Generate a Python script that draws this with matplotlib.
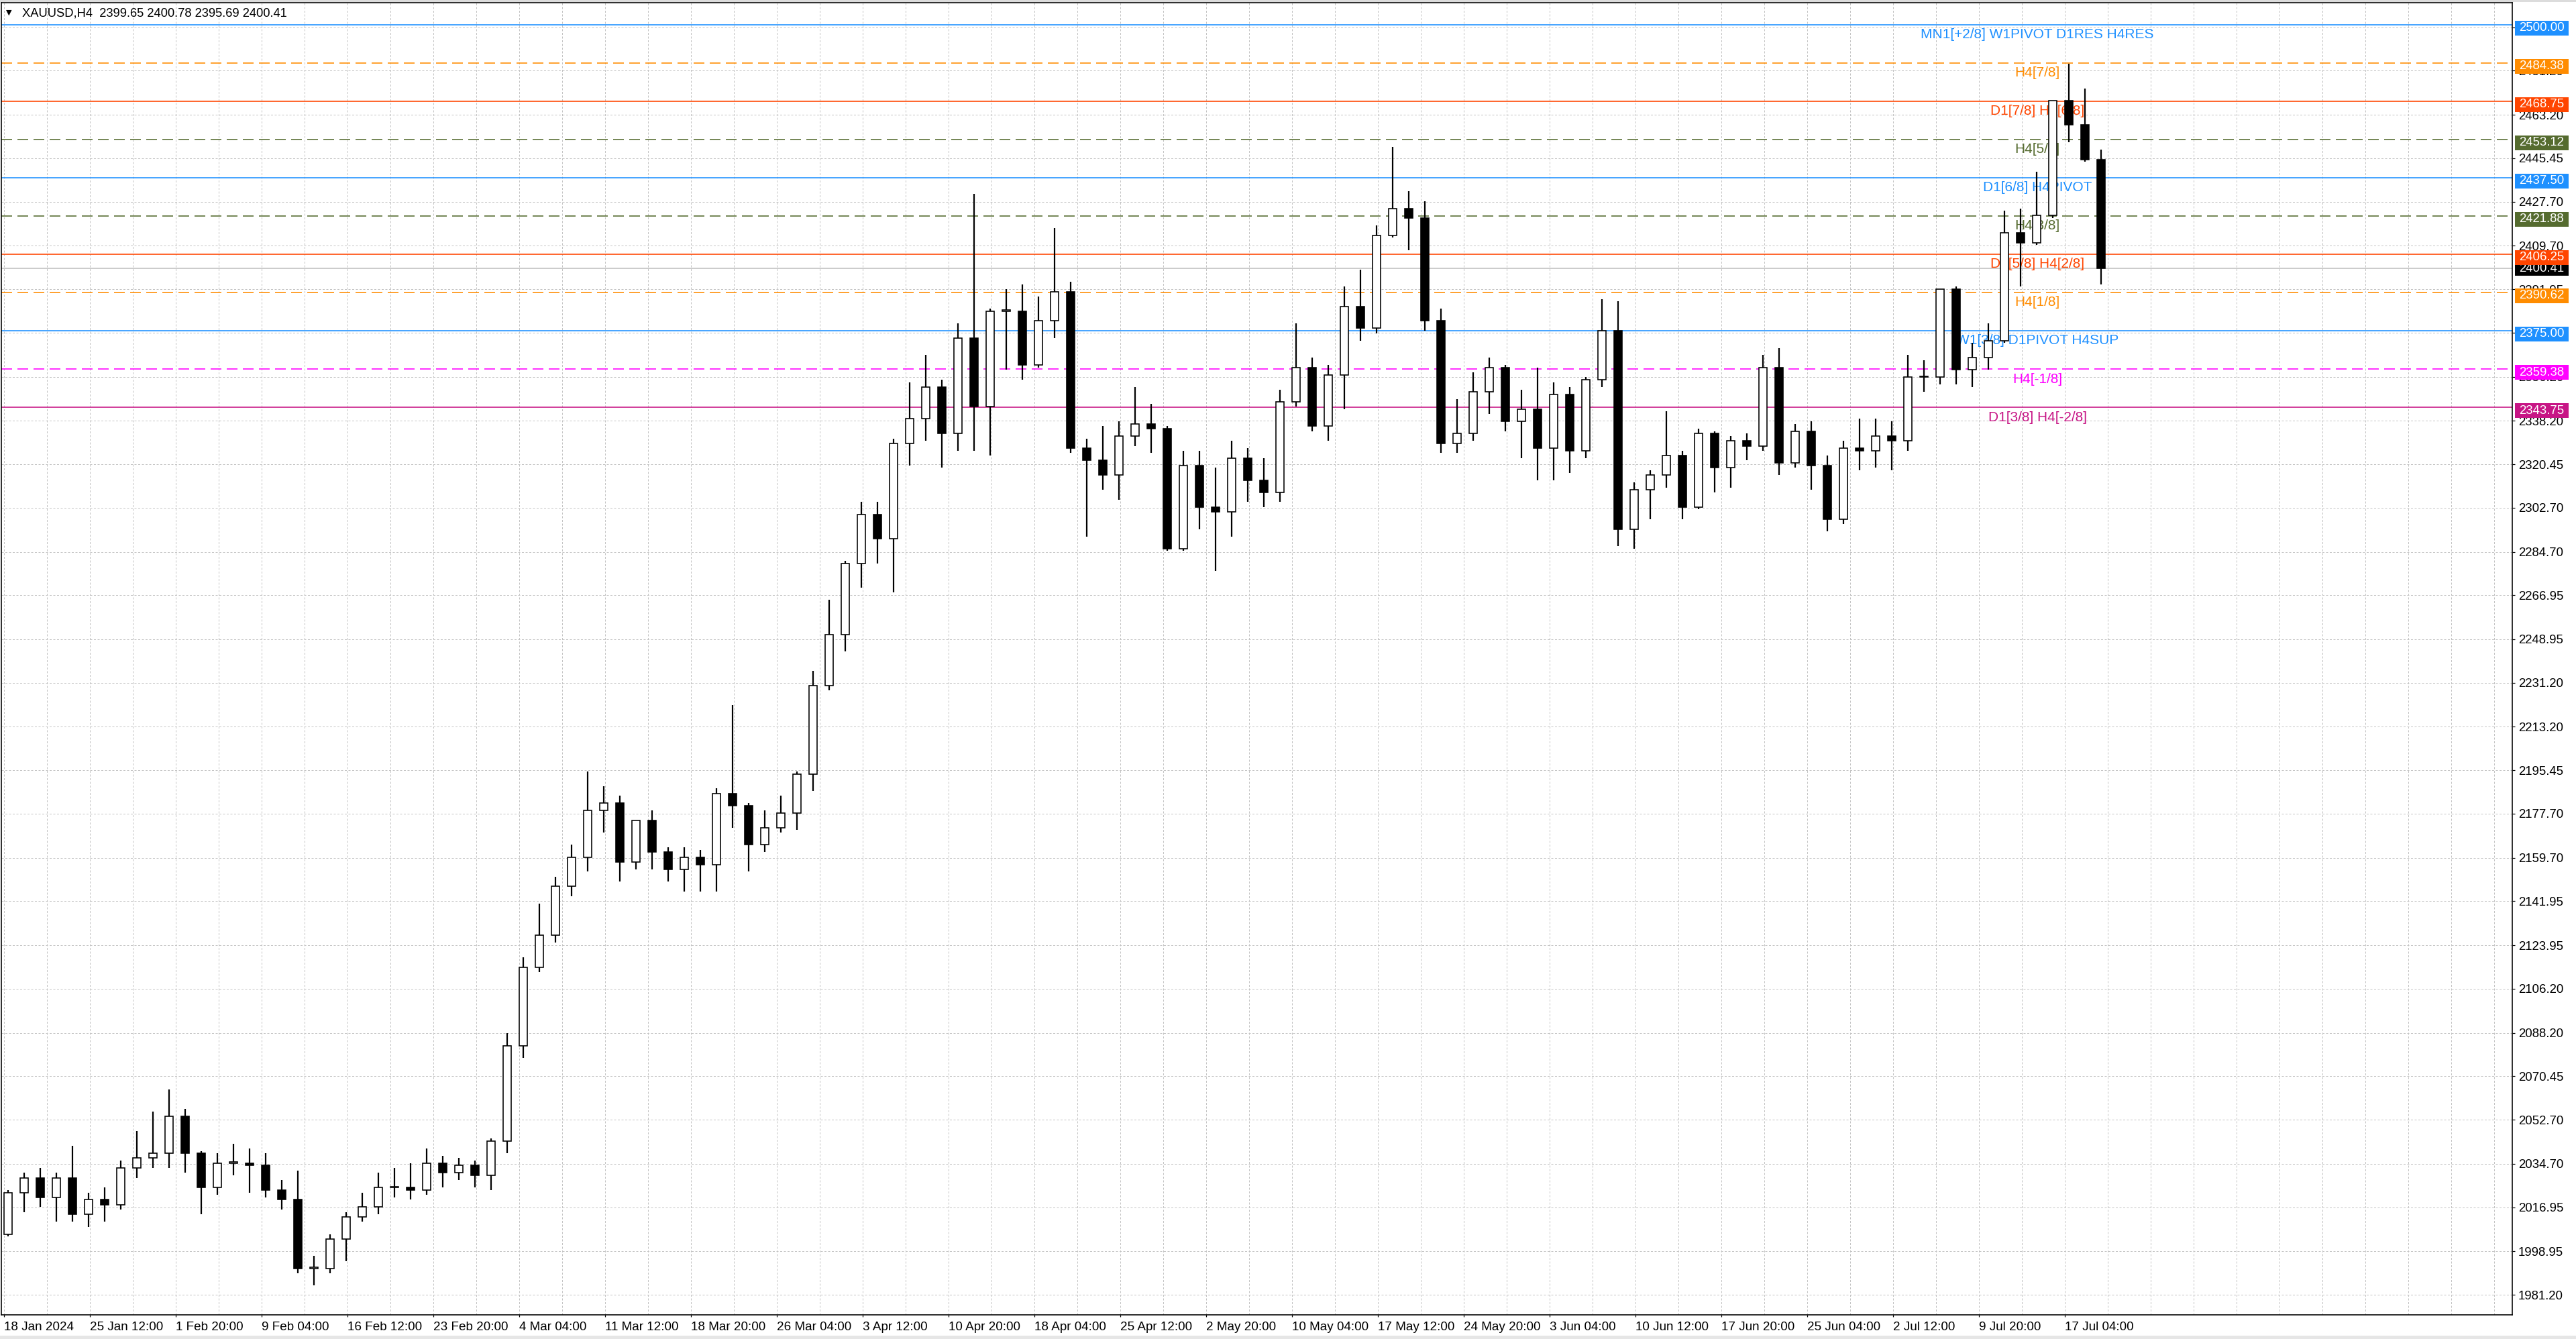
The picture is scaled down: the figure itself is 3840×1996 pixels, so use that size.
import matplotlib
matplotlib.use("Agg")
import matplotlib.pyplot as plt
from matplotlib.patches import Rectangle
from matplotlib.transforms import blended_transform_factory
import numpy as np

plt.rcParams['lines.scale_dashes'] = False
plt.rcParams['font.family'] = ['Liberation Sans', 'DejaVu Sans']

# ---------------- data ----------------
symbol = "XAUUSD,H4"
last_bar = [2399.65, 2400.78, 2395.69, 2400.41]   # O H L C of the current bar

days = ["18 Jan", "19 Jan", "22 Jan", "23 Jan", "24 Jan", "25 Jan", "26 Jan", "29 Jan", "30 Jan", "31 Jan",
        "1 Feb", "2 Feb", "5 Feb", "6 Feb", "7 Feb", "8 Feb", "9 Feb", "12 Feb", "13 Feb", "14 Feb",
        "15 Feb", "16 Feb", "19 Feb", "20 Feb", "21 Feb", "22 Feb", "23 Feb", "26 Feb", "27 Feb", "28 Feb",
        "29 Feb", "1 Mar", "4 Mar", "5 Mar", "6 Mar", "7 Mar", "8 Mar", "11 Mar", "12 Mar", "13 Mar",
        "14 Mar", "15 Mar", "18 Mar", "19 Mar", "20 Mar", "21 Mar", "22 Mar", "25 Mar", "26 Mar", "27 Mar",
        "28 Mar", "1 Apr", "2 Apr", "3 Apr", "4 Apr", "5 Apr", "8 Apr", "9 Apr", "10 Apr", "11 Apr",
        "12 Apr", "15 Apr", "16 Apr", "17 Apr", "18 Apr", "19 Apr", "22 Apr", "23 Apr", "24 Apr", "25 Apr",
        "26 Apr", "29 Apr", "30 Apr", "1 May", "2 May", "3 May", "6 May", "7 May", "8 May", "9 May",
        "10 May", "13 May", "14 May", "15 May", "16 May", "17 May", "20 May", "21 May", "22 May", "23 May",
        "24 May", "27 May", "28 May", "29 May", "30 May", "31 May", "3 Jun", "4 Jun", "5 Jun", "6 Jun",
        "7 Jun", "10 Jun", "11 Jun", "12 Jun", "13 Jun", "14 Jun", "17 Jun", "18 Jun", "19 Jun", "20 Jun",
        "21 Jun", "24 Jun", "25 Jun", "26 Jun", "27 Jun", "28 Jun", "1 Jul", "2 Jul", "3 Jul", "4 Jul",
        "5 Jul", "8 Jul", "9 Jul", "10 Jul", "11 Jul", "12 Jul", "15 Jul", "16 Jul", "17 Jul", "18 Jul",
        "19 Jul"]

opens = [2006, 2023, 2029, 2021, 2029, 2014, 2020, 2018, 2033, 2037,
         2039, 2054, 2039, 2025, 2035, 2035, 2034, 2024, 2020, 1992,
         1992, 2004, 2013, 2017, 2025, 2025, 2024, 2035, 2031, 2034,
         2030, 2044, 2083, 2115, 2128, 2148, 2160, 2179, 2182, 2158,
         2175, 2162, 2155, 2160, 2157, 2186, 2181, 2165, 2172, 2178,
         2194, 2230, 2251, 2280, 2300, 2290, 2329, 2339, 2352, 2333,
         2372, 2344, 2383, 2383, 2361, 2379, 2391, 2327, 2322, 2316,
         2332, 2337, 2335, 2286, 2320, 2303, 2301, 2323, 2314, 2309,
         2346, 2360, 2336, 2357, 2385, 2376, 2414, 2425, 2421, 2379,
         2329, 2333, 2350, 2360, 2338, 2343, 2327, 2349, 2326, 2355,
         2375, 2294, 2310, 2316, 2324, 2303, 2333, 2319, 2330, 2328,
         2360, 2321, 2334, 2320, 2298, 2327, 2326, 2332, 2330, 2356,
         2356, 2392, 2359, 2364, 2371, 2415, 2411, 2422, 2469, 2459,
         2445]

highs = [2024, 2031, 2033, 2031, 2042, 2023, 2025, 2036, 2048, 2056,
         2065, 2057, 2040, 2039, 2043, 2041, 2039, 2028, 2032, 1997,
         2006, 2015, 2023, 2031, 2033, 2035, 2041, 2038, 2037, 2036,
         2045, 2088, 2119, 2141, 2152, 2165, 2195, 2189, 2185, 2175,
         2179, 2164, 2164, 2163, 2188, 2222, 2182, 2179, 2185, 2195,
         2236, 2265, 2281, 2305, 2305, 2331, 2354, 2365, 2355, 2378,
         2431, 2384, 2392, 2394, 2389, 2417, 2395, 2331, 2336, 2338,
         2352, 2345, 2336, 2326, 2326, 2319, 2330, 2327, 2323, 2351,
         2378, 2364, 2361, 2393, 2400, 2418, 2450, 2432, 2428, 2384,
         2347, 2358, 2364, 2361, 2351, 2360, 2354, 2352, 2356, 2388,
         2387, 2313, 2318, 2342, 2326, 2335, 2334, 2332, 2333, 2365,
         2368, 2337, 2338, 2324, 2330, 2339, 2339, 2338, 2365, 2363,
         2392, 2393, 2370, 2378, 2424, 2425, 2440, 2469, 2484, 2474,
         2449]

lows = [2005, 2015, 2017, 2011, 2011, 2009, 2011, 2016, 2029, 2033,
        2033, 2031, 2014, 2022, 2030, 2023, 2021, 2016, 1990, 1985,
        1990, 1995, 2011, 2014, 2021, 2020, 2022, 2025, 2028, 2025,
        2024, 2039, 2078, 2113, 2125, 2144, 2154, 2170, 2150, 2155,
        2155, 2150, 2146, 2146, 2146, 2172, 2154, 2162, 2170, 2171,
        2187, 2228, 2244, 2270, 2280, 2268, 2320, 2330, 2319, 2326,
        2326, 2324, 2359, 2355, 2360, 2372, 2325, 2291, 2310, 2306,
        2328, 2325, 2285, 2285, 2294, 2277, 2291, 2305, 2303, 2305,
        2344, 2334, 2330, 2343, 2371, 2374, 2413, 2408, 2375, 2325,
        2325, 2330, 2341, 2334, 2323, 2314, 2314, 2317, 2323, 2352,
        2287, 2286, 2298, 2311, 2298, 2302, 2309, 2311, 2322, 2326,
        2316, 2319, 2310, 2293, 2296, 2318, 2319, 2318, 2326, 2350,
        2353, 2353, 2352, 2359, 2370, 2393, 2410, 2421, 2452, 2444,
        2394]

closes = [2023, 2029, 2021, 2029, 2014, 2020, 2018, 2033, 2037, 2039,
          2054, 2039, 2025, 2035, 2035, 2034, 2024, 2020, 1992, 1992,
          2004, 2013, 2017, 2025, 2025, 2024, 2035, 2031, 2034, 2030,
          2044, 2083, 2115, 2128, 2148, 2160, 2179, 2182, 2158, 2175,
          2162, 2155, 2160, 2157, 2186, 2181, 2165, 2172, 2178, 2194,
          2230, 2251, 2280, 2300, 2290, 2329, 2339, 2352, 2333, 2372,
          2344, 2383, 2383, 2361, 2379, 2391, 2327, 2322, 2316, 2332,
          2337, 2335, 2286, 2320, 2303, 2301, 2323, 2314, 2309, 2346,
          2360, 2336, 2357, 2385, 2376, 2414, 2425, 2421, 2379, 2329,
          2333, 2350, 2360, 2338, 2343, 2327, 2349, 2326, 2355, 2375,
          2294, 2310, 2316, 2324, 2303, 2333, 2319, 2330, 2328, 2360,
          2321, 2334, 2320, 2298, 2327, 2326, 2332, 2330, 2356, 2356,
          2392, 2359, 2364, 2371, 2415, 2411, 2422, 2469, 2459, 2445,
          2400.41]

levels = [2500.00, 2484.38, 2468.75, 2453.12, 2437.50, 2421.88, 2406.25,
          2390.62, 2375.00, 2359.38, 2343.75]
level_names = ["MN1[+2/8] W1PIVOT D1RES H4RES", "H4[7/8]", "D1[7/8] H4[6/8]", "H4[5/8]",
               "D1[6/8] H4PIVOT", "H4[3/8]", "D1[5/8] H4[2/8]", "H4[1/8]",
               "W1[3/8] D1PIVOT H4SUP", "H4[-1/8]", "D1[3/8] H4[-2/8]"]
level_colors = ["#1E90FF", "#FF8C00", "#FF4500", "#556B2F", "#1E90FF", "#556B2F",
                "#FF4500", "#FF8C00", "#1E90FF", "#FF00FF", "#C71585"]
level_dashed = [False, True, False, True, False, True, False, True, False, True, False]

y_ticks = [2498.95, 2481.20, 2463.20, 2445.45, 2427.70, 2409.70, 2391.95, 2374.20, 2356.20,
           2338.20, 2320.45, 2302.70, 2284.70, 2266.95, 2248.95, 2231.20, 2213.20, 2195.45,
           2177.70, 2159.70, 2141.95, 2123.95, 2106.20, 2088.20, 2070.45, 2052.70, 2034.70,
           2016.95, 1998.95, 1981.20]
# scale values whose label sits completely under a price box in the reference
y_ticks_hidden = [2498.95, 2374.20]

x_labels = ["18 Jan 2024", "25 Jan 12:00", "1 Feb 20:00", "9 Feb 04:00", "16 Feb 12:00",
            "23 Feb 20:00", "4 Mar 04:00", "11 Mar 12:00", "18 Mar 20:00", "26 Mar 04:00",
            "3 Apr 12:00", "10 Apr 20:00", "18 Apr 04:00", "25 Apr 12:00", "2 May 20:00",
            "10 May 04:00", "17 May 12:00", "24 May 20:00", "3 Jun 04:00", "10 Jun 12:00",
            "17 Jun 20:00", "25 Jun 04:00", "2 Jul 12:00", "9 Jul 20:00", "17 Jul 04:00"]

# ---------------- layout (pixels) ----------------
W, H = 3840, 1996
DPI = 100
PT = 72.0 / DPI          # points per pixel
BARS_PER_DAY = 6         # H4 bars per trading day
LABEL_STEP = 32          # bars between time labels

fig = plt.figure(figsize=(W / DPI, H / DPI), dpi=DPI, facecolor="white")
ax_left, ax_right, ax_top, ax_bottom = 2, 3745, 4, 1960
ax = fig.add_axes([ax_left / W, (H - ax_bottom) / H,
                   (ax_right - ax_left) / W, (ax_bottom - ax_top) / H])
ax.set_facecolor("white")

xmin, xmax = 0.125, 0.125 + (ax_right - ax_left) / 4.0
ymin, ymax = 1973.0, 2509.0
ax.set_xlim(xmin, xmax)
ax.set_ylim(ymin, ymax)
px_per_unit = (ax_bottom - ax_top) / (ymax - ymin)

# grid
grid_color = "#C3C3C3"
grid_ls = (0, (3 * PT, 2.5 * PT))
for v in y_ticks:
    ax.axhline(v, color=grid_color, lw=1.0 * PT, ls=grid_ls, zorder=0)
grid_x = np.arange(1, xmax, LABEL_STEP // 2)
for gx in grid_x:
    ax.axvline(gx, color=grid_color, lw=1.0 * PT, ls=grid_ls, zorder=0)

# level lines and labels
label_x = (3037 - 1.5) / 4.0
dash = (0, (16 * PT, 8 * PT))
for lv, name, col, dsh in zip(levels, level_names, level_colors, level_dashed):
    ax.axhline(lv, color=col, lw=1.6 * PT, ls=dash if dsh else "-", zorder=1)
    ax.text(label_x, lv - 5.5 / px_per_unit, name, color=col, fontsize=15,
            ha="center", va="top", zorder=1.5)

# current price line
ax.axhline(closes[-1], color="#C0C0C0", lw=1.6 * PT, zorder=1)

# candles (one per trading day, placed on the H4 bar axis)
o = np.array(opens, float)
h = np.array(highs, float)
l = np.array(lows, float)
c = np.array(closes, float)
xpos = np.arange(len(days)) * BARS_PER_DAY + BARS_PER_DAY / 2 - 0.5
up = c >= o
ax.vlines(xpos, l, h, color="black", lw=2.2 * PT, zorder=3)
body_h = np.maximum(np.abs(c - o), 0.45)
ax.bar(xpos, body_h, bottom=np.minimum(o, c), width=3.0,
       color=np.where(up, "white", "black"), edgecolor="black",
       linewidth=1.6 * PT, zorder=4)

# spines / ticks
for sp in ax.spines.values():
    sp.set_color("black")
    sp.set_linewidth(1.6 * PT)

ax.yaxis.tick_right()
ax.set_yticks(y_ticks)
ax.set_yticklabels(["" if v in y_ticks_hidden else f"{v:.2f}" for v in y_ticks])
ax.tick_params(axis="y", direction="out", length=4 * PT, width=1.2 * PT,
               pad=5 * PT, labelsize=13.4, colors="black")

xt = np.arange(len(x_labels)) * LABEL_STEP + 1
ax.set_xticks(xt)
ax.set_xticklabels(x_labels)
for lab in ax.get_xticklabels():
    lab.set_ha("left")
ax.tick_params(axis="x", direction="out", length=3 * PT, width=1.2 * PT,
               pad=7 * PT, labelsize=13.6, colors="black")

# price boxes on the right scale
trans = blended_transform_factory(ax.transAxes, ax.transData)
box_x0 = (3749 - ax_left) / (ax_right - ax_left)
box_w = 80 / (ax_right - ax_left)
text_x = (3755 - ax_left) / (ax_right - ax_left)
box_h = 22 / px_per_unit

cur = closes[-1]
ax.add_patch(Rectangle((box_x0, cur - box_h / 2), box_w, box_h, transform=trans,
                       facecolor="black", edgecolor="none", clip_on=False, zorder=5))
ax.text(text_x, cur, f"{cur:.2f}", transform=trans, color="white", fontsize=13.4,
        ha="left", va="center", clip_on=False, zorder=6)

for lv, col in zip(levels, level_colors):
    top = lv + 6 / px_per_unit
    ax.add_patch(Rectangle((box_x0, top - box_h), box_w, box_h, transform=trans,
                           facecolor=col, edgecolor="none", clip_on=False, zorder=7))
    ax.text(text_x, top - box_h / 2, f"{lv:.2f}", transform=trans, color="white",
            fontsize=13.4, ha="left", va="center", clip_on=False, zorder=8)

# header text
fig.text(9 / W, 1 - 19 / H, "\u25BC", family="DejaVu Sans", fontsize=8,
         ha="left", va="center", color="black")
fig.text(33 / W, 1 - 20 / H,
         symbol + "  " + " ".join(f"{v:.2f}" for v in last_bar),
         fontsize=13.2, ha="left", va="center", color="black")

# light window strips
fig.patches.append(Rectangle((0, 1 - 3 / H), 1, 3 / H, transform=fig.transFigure,
                             facecolor="#DCDCDC", edgecolor="none", zorder=0))
fig.patches.append(Rectangle((0, 0), 1, 5 / H, transform=fig.transFigure,
                             facecolor="#E6E6E6", edgecolor="none", zorder=0))

fig.savefig("out.png", dpi=DPI, facecolor="white")
